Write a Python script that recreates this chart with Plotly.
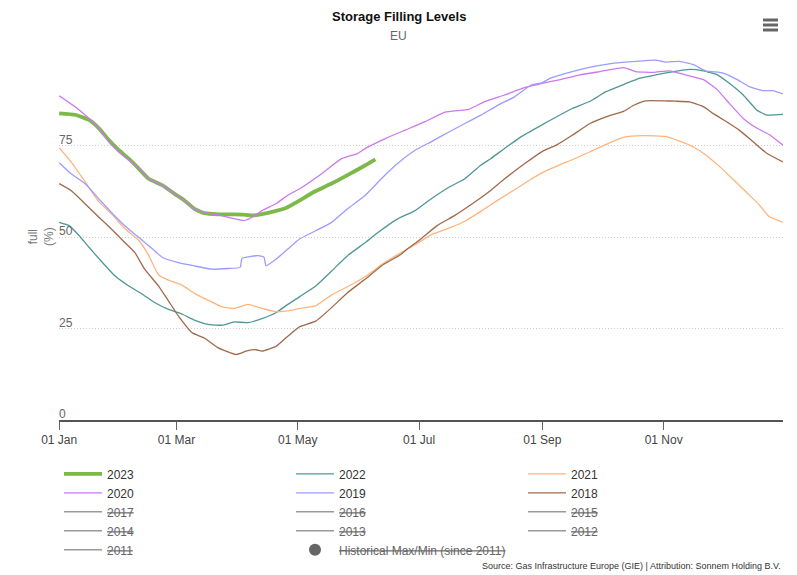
import pandas as pd
import plotly.graph_objects as go

# ---- data (day offset from 01 Jan, filling level in %) ----
days_2023 = [0, 8, 15, 20, 25, 30, 35, 40, 45, 52, 58, 63, 68, 73, 80, 85, 92, 98, 105, 114, 121, 128, 137, 145, 154, 159]
fill_2023 = [83.8, 83.4, 82, 79.7, 76.5, 73.7, 71.4, 68.7, 65.9, 64.1, 61.8, 60, 57.7, 56.5, 56.2, 56.2, 56.1, 55.9, 56.6, 57.9, 60, 62.3, 64.6, 66.9, 69.6, 71.2]

days_2022 = [0, 5, 10, 15, 21, 28, 35, 42, 48, 55, 62, 68, 75, 82, 88, 95, 102, 109, 115, 121, 129, 137, 145, 154, 160, 170, 179, 187, 196, 204, 212, 217, 224, 232, 243, 250, 258, 267, 275, 284, 292, 300, 309, 317, 324, 331, 337, 344, 351, 356, 364]
fill_2022 = [54, 53.1, 50.4, 47.2, 43.5, 39.4, 36.6, 34.3, 32.1, 30.2, 28.9, 27.3, 26.1, 25.9, 26.8, 26.6, 27.7, 29.3, 31.6, 33.7, 36.6, 40.7, 44.9, 48.5, 51.1, 54.9, 57.2, 60.4, 63.6, 65.9, 69.6, 71.4, 74.2, 77.3, 80.7, 82.8, 85.1, 87.1, 89.7, 91.7, 93.4, 94.3, 95.2, 95.8, 95.4, 94.3, 92, 88.8, 84.6, 83.3, 83.5]

days_2021 = [0, 6, 13, 20, 27, 33, 40, 45, 50, 55, 62, 68, 75, 82, 88, 95, 102, 109, 115, 121, 129, 137, 145, 154, 162, 170, 179, 187, 196, 204, 212, 221, 229, 237, 243, 252, 258, 267, 275, 284, 294, 305, 312, 319, 325, 332, 339, 346, 352, 357, 364]
fill_2021 = [74.4, 70.5, 65.1, 59.6, 55.9, 52.3, 49.1, 45, 39.6, 38.2, 36.8, 34.6, 32.7, 30.9, 30.5, 31.6, 30.5, 29.6, 29.8, 30.5, 31.2, 34.2, 36.4, 39.2, 42.4, 45.1, 47.9, 50.6, 52.4, 54.3, 57, 60.2, 62.9, 65.7, 67.6, 69.8, 71.1, 73.3, 75.3, 77.3, 77.7, 77.5, 76.2, 74.6, 72.5, 69.3, 65.7, 62, 58.8, 55.6, 54]

days_2020 = [0, 8, 15, 20, 25, 30, 35, 40, 45, 52, 58, 63, 68, 75, 81, 88, 93, 97, 102, 109, 115, 121, 132, 142, 150, 154, 164, 174, 184, 194, 206, 214, 224, 234, 243, 252, 262, 272, 284, 290, 299, 307, 315, 324, 331, 337, 344, 351, 357, 364]
fill_2020 = [88.6, 85.6, 82.4, 79.7, 76, 73.3, 71, 68.9, 65.9, 64.1, 61.8, 60, 57.5, 56.5, 55.9, 55, 54.5, 55.4, 57.2, 59.1, 61.4, 63.2, 67.3, 71.4, 72.8, 74.2, 76.9, 79.2, 81.5, 84.1, 84.9, 87, 88.8, 90.8, 92, 93, 94.3, 95.2, 96.3, 95.2, 95, 95.4, 94.3, 93, 90.2, 86.5, 82.4, 79.7, 78, 75.1]

days_2019 = [0, 6, 13, 20, 27, 33, 40, 47, 52, 60, 68, 77, 85, 91, 92, 100, 103, 104, 109, 115, 121, 129, 137, 145, 154, 162, 170, 179, 187, 196, 204, 212, 221, 229, 237, 243, 247, 258, 269, 279, 290, 300, 305, 312, 319, 325, 334, 341, 347, 354, 359, 364]
fill_2019 = [70.3, 67.3, 64.6, 60.4, 56.3, 53.1, 49.9, 46.7, 44.4, 43, 42.1, 41.2, 41.4, 41.7, 44.2, 44.9, 44.5, 42.1, 43.9, 46.7, 49.5, 51.7, 54, 57.7, 61.4, 65.9, 70, 73.7, 76, 78.7, 81, 83.3, 86.1, 88.3, 91.4, 92.2, 93.4, 95.2, 96.6, 97.5, 98, 98.3, 97.8, 98, 97.1, 95.4, 94.8, 93, 91.1, 90, 90, 89.1]

days_2018 = [0, 6, 13, 20, 27, 33, 38, 43, 50, 55, 60, 67, 73, 80, 89, 94, 99, 102, 109, 115, 121, 129, 137, 145, 154, 162, 172, 175, 182, 190, 199, 207, 216, 224, 234, 243, 250, 258, 267, 275, 284, 289, 295, 304, 310, 317, 324, 329, 337, 342, 349, 356, 364]
fill_2018 = [64.6, 62.7, 59.1, 55.4, 51.8, 48.5, 45.8, 41.2, 36.6, 32.5, 28.4, 23.8, 22.4, 19.7, 17.9, 18.8, 19.2, 18.8, 20.1, 22.9, 25.5, 27, 30.7, 34.8, 38.5, 42.1, 45.3, 46.7, 49.5, 53.1, 55.9, 58.8, 62.3, 65.9, 70, 73.4, 75.1, 77.8, 81, 82.8, 84.4, 86, 87.2, 87.2, 87.1, 86.9, 85.6, 83.7, 81, 79.2, 76, 72.8, 70.5]

visible_years = ["2023", "2022", "2021", "2020", "2019", "2018"]
hidden_years = ["2017", "2016", "2015", "2014", "2013", "2012", "2011"]
hist_label = "Historical Max/Min (since 2011)"

y_tickvals = [0, 25, 50, 75, 100]
y_ticktext = ["0", "25", "50", "75", ""]
x_tickvals = ["2023-01-01", "2023-03-01", "2023-05-01", "2023-07-01", "2023-09-01", "2023-11-01"]

series = {
    "2023": (days_2023, fill_2023),
    "2022": (days_2022, fill_2022),
    "2021": (days_2021, fill_2021),
    "2020": (days_2020, fill_2020),
    "2019": (days_2019, fill_2019),
    "2018": (days_2018, fill_2018),
}
colors = {"2023": "#7cb84a", "2022": "#4f9795", "2021": "#ffb47c",
          "2020": "#cc78f0", "2019": "#9c9cff", "2018": "#a0694a"}
widths = {"2023": 3.8, "2022": 1.3, "2021": 1.3, "2020": 1.3, "2019": 1.3, "2018": 1.3}

base = pd.Timestamp("2023-01-01")

def to_dates(d):
    return [base + pd.Timedelta(days=int(v)) for v in d]

fig = go.Figure()
for yr in visible_years:
    d, v = series[yr]
    fig.add_trace(go.Scatter(x=to_dates(d), y=v, mode="lines", name=yr,
                             line=dict(color=colors[yr], width=widths[yr], shape="spline", smoothing=0.4),
                             hoverinfo="skip"))
for yr in hidden_years:
    fig.add_trace(go.Scatter(x=[None], y=[None], mode="lines",
                             name='<span style="color:#666"><s>' + yr + '</s></span>',
                             line=dict(color="#9a9a9a", width=1.5)))
fig.add_trace(go.Scatter(x=[None], y=[None], mode="markers",
                         name='<span style="color:#666"><s>' + hist_label + '</s></span>',
                         marker=dict(color="#666666", size=12, symbol="circle")))

FONT = "Liberation Sans, Arial, sans-serif"

annotations = [
    dict(text="<b>Storage Filling Levels</b>", xref="paper", yref="paper",
         x=(398.5 - 59) / 724, y=1 + (54 - 16) / 366, xanchor="center", yanchor="middle",
         showarrow=False, font=dict(family=FONT, size=13, color="#111")),
    dict(text="EU", xref="paper", yref="paper",
         x=(398.5 - 59) / 724, y=1 + (54 - 36) / 366, xanchor="center", yanchor="middle",
         showarrow=False, font=dict(family=FONT, size=12, color="#666")),
    dict(text="full<br>(%)", xref="paper", yref="paper", x=0, y=0.5,
         xanchor="right", yanchor="middle", xshift=-1, textangle=-90,
         showarrow=False, font=dict(family=FONT, size=12, color="#777")),
    dict(text="Source: Gas Infrastructure Europe (GIE) | Attribution: Sonnem Holding B.V.",
         xref="paper", yref="paper", x=1, y=(420 - 566) / 366,
         xanchor="right", yanchor="middle", showarrow=False,
         font=dict(family=FONT, size=9, color="#333")),
]
# y-axis tick labels, drawn inside the plot above each grid line
for val, txt in zip(y_tickvals, y_ticktext):
    if txt:
        annotations.append(dict(text=txt, xref="paper", yref="y", x=0, y=val,
                                xanchor="left", yanchor="bottom", xshift=-2, yshift=-3,
                                showarrow=False, font=dict(family=FONT, size=12, color="#666")))

fig.update_layout(
    width=797, height=575,
    margin=dict(l=59, r=14, t=54, b=155, autoexpand=False),
    paper_bgcolor="white", plot_bgcolor="white",
    font=dict(family=FONT, size=12, color="#333"),
    showlegend=True,
    legend=dict(orientation="h", x=0, xanchor="left", y=-0.1075, yanchor="top",
                entrywidth=179, entrywidthmode="pixels", itemwidth=38,
                font=dict(family=FONT, size=12, color="#333"),
                traceorder="normal", bgcolor="rgba(0,0,0,0)"),
    xaxis=dict(type="date", range=["2022-12-31 22:00", "2023-12-31"],
               tickvals=x_tickvals, tickformat="%d %b",
               showgrid=False, zeroline=False,
               showline=True, linecolor="#555", linewidth=2,
               ticks="outside", ticklen=8, tickcolor="#666", tickwidth=1,
               tickfont=dict(family=FONT, size=12, color="#444")),
    yaxis=dict(range=[0, 100], tickvals=y_tickvals, showticklabels=False,
               showgrid=True, gridcolor="#cfcfc6", griddash="1px,2px", gridwidth=1,
               zeroline=False, showline=False, ticks=""),
    annotations=annotations,
)

# export-menu (hamburger) icon
for py in (20, 25, 30):
    fig.add_shape(type="line", xref="paper", yref="paper",
                  x0=(763 - 59) / 724, x1=(778 - 59) / 724,
                  y0=(420 - py) / 366, y1=(420 - py) / 366,
                  line=dict(color="#666", width=3))

fig.write_html("out.html", config={"displayModeBar": False},
               post_script="document.body.style.margin='0';")
